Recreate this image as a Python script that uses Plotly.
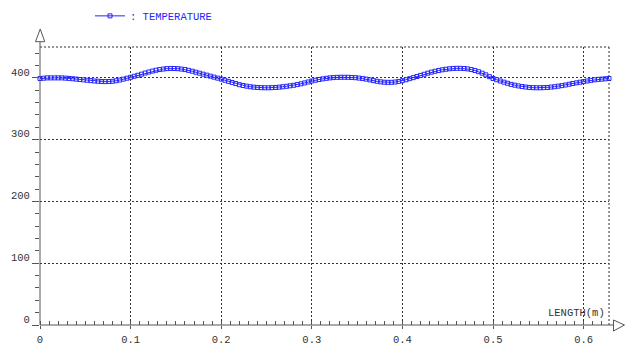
import plotly.graph_objects as go

# ---- data ----
LENGTH_M = [
    0.000, 0.004, 0.008, 0.012, 0.016, 0.020, 0.024, 0.028, 0.032, 0.036,
    0.040, 0.044, 0.048, 0.052, 0.056, 0.060, 0.064, 0.068, 0.072, 0.076,
    0.080, 0.084, 0.088, 0.092, 0.096, 0.100, 0.104, 0.108, 0.112, 0.116,
    0.120, 0.124, 0.128, 0.132, 0.136, 0.140, 0.144, 0.148, 0.152, 0.156,
    0.160, 0.164, 0.168, 0.172, 0.176, 0.180, 0.184, 0.188, 0.192, 0.196,
    0.200, 0.204, 0.208, 0.212, 0.216, 0.220, 0.224, 0.228, 0.232, 0.236,
    0.240, 0.244, 0.248, 0.252, 0.256, 0.260, 0.264, 0.268, 0.272, 0.276,
    0.280, 0.284, 0.288, 0.292, 0.296, 0.300, 0.304, 0.308, 0.312, 0.316,
    0.320, 0.324, 0.328, 0.332, 0.336, 0.340, 0.344, 0.348, 0.352, 0.356,
    0.360, 0.364, 0.368, 0.372, 0.376, 0.380, 0.384, 0.388, 0.392, 0.396,
    0.400, 0.404, 0.408, 0.412, 0.416, 0.420, 0.424, 0.428, 0.432, 0.436,
    0.440, 0.444, 0.448, 0.452, 0.456, 0.460, 0.464, 0.468, 0.472, 0.476,
    0.480, 0.484, 0.488, 0.492, 0.496, 0.500, 0.504, 0.508, 0.512, 0.516,
    0.520, 0.524, 0.528, 0.532, 0.536, 0.540, 0.544, 0.548, 0.552, 0.556,
    0.560, 0.564, 0.568, 0.572, 0.576, 0.580, 0.584, 0.588, 0.592, 0.596,
    0.600, 0.604, 0.608, 0.612, 0.616, 0.620, 0.624, 0.628,
]

TEMPERATURE = [
    399.0, 399.5, 400.0, 400.0, 400.0, 400.0, 400.0, 399.6, 399.2, 398.6,
    398.0, 397.4, 396.8, 396.2, 395.6, 395.0, 394.6, 394.2, 394.0, 394.1,
    394.5, 395.4, 396.5, 398.0, 399.5, 401.0, 402.6, 404.2, 406.0, 407.8,
    409.5, 411.0, 412.4, 413.5, 414.3, 415.0, 415.3, 415.2, 414.9, 414.3,
    413.5, 412.2, 410.8, 409.2, 407.6, 406.0, 404.4, 402.8, 401.2, 399.6,
    398.0, 396.2, 394.4, 392.6, 390.8, 389.0, 387.7, 386.6, 385.7, 385.0,
    384.5, 384.2, 384.0, 384.0, 384.2, 384.5, 385.0, 385.6, 386.4, 387.2,
    388.0, 389.2, 390.4, 391.8, 393.4, 395.0, 396.2, 397.4, 398.4, 399.3,
    400.0, 400.5, 400.9, 401.0, 401.0, 401.0, 400.7, 400.3, 399.7, 398.9,
    398.0, 396.8, 395.6, 394.5, 393.6, 393.0, 392.8, 392.8, 393.3, 394.3,
    395.5, 397.0, 398.7, 400.4, 402.2, 404.0, 405.8, 407.6, 409.3, 410.7,
    412.0, 413.1, 414.0, 414.8, 415.3, 415.5, 415.5, 415.2, 414.6, 413.5,
    412.0, 410.0, 407.6, 405.0, 402.0, 399.0, 397.0, 395.0, 393.1, 391.3,
    389.5, 388.2, 387.0, 386.0, 385.2, 384.5, 384.2, 384.0, 384.0, 384.2,
    384.5, 385.1, 385.7, 386.6, 387.5, 388.5, 389.7, 390.9, 392.0, 393.0,
    394.0, 395.0, 396.0, 396.9, 397.6, 398.0, 398.5, 399.0,
]

X_TICKS = [0, 0.1, 0.2, 0.3, 0.4, 0.5, 0.6]
X_TICK_LABELS = ["0", "0.1", "0.2", "0.3", "0.4", "0.5", "0.6"]
Y_TICKS = [0, 100, 200, 300, 400]
Y_TICK_LABELS = ["0", "100", "200", "300", "400"]
X_MAX = 0.628
Y_MAX = 450

SERIES_NAME = ": TEMPERATURE"
X_TITLE = "LENGTH(m)"

FONT = "Liberation Mono, Courier New, monospace"
BLUE = "#2626ff"
AXIS = "#555555"
GRID = "#333333"

fig = go.Figure()
fig.add_trace(go.Scatter(
    x=LENGTH_M, y=TEMPERATURE, mode="lines+markers", name=SERIES_NAME,
    line=dict(color=BLUE, width=1),
    marker=dict(symbol="square-open", size=4, color=BLUE, line=dict(width=1, color=BLUE)),
    cliponaxis=False,
))

fig.update_layout(
    width=630, height=345,
    margin=dict(l=40, r=21, t=47, b=20, autoexpand=False),
    paper_bgcolor="white", plot_bgcolor="white",
    font=dict(family=FONT, size=10.5, color="#333333"),
    showlegend=True,
    legend=dict(x=(90 - 40) / 569, y=1.112, xanchor="left", yanchor="middle",
                bgcolor="rgba(0,0,0,0)", font=dict(family=FONT, size=10.5, color=BLUE),
                itemclick=False),
    xaxis=dict(
        range=[0, X_MAX], tickvals=X_TICKS, ticktext=X_TICK_LABELS,
        showgrid=True, gridcolor=GRID, gridwidth=1, griddash="2px,2px",
        zeroline=False, showline=False, automargin=False,
        ticks="outside", ticklen=3, tickcolor=AXIS, tickwidth=1,
        ticklabelstandoff=1,
        minor=dict(dtick=0.01, ticks="inside", ticklen=4, tickcolor=AXIS, showgrid=False),
        fixedrange=True,
    ),
    yaxis=dict(
        range=[0, Y_MAX], tickvals=Y_TICKS, ticktext=Y_TICK_LABELS,
        showgrid=True, gridcolor=GRID, gridwidth=1, griddash="2px,2px",
        zeroline=False, showline=False, automargin=False,
        ticks="outside", ticklen=7, tickcolor=AXIS, tickwidth=1,
        ticklabelshift=-6,
        minor=dict(dtick=20, ticks="outside", ticklen=4, tickcolor=AXIS, showgrid=False),
        fixedrange=True,
    ),
)

# frame lines (top and right dashed), axis lines and arrow heads
fig.add_shape(type="line", xref="paper", yref="paper", x0=0, x1=1, y0=1, y1=1,
              line=dict(color=GRID, width=1, dash="2px,2px"))
fig.add_shape(type="line", xref="paper", yref="paper", x0=1, x1=1, y0=0, y1=1,
              line=dict(color=GRID, width=1, dash="2px,2px"))
fig.add_shape(type="line", xref="paper", yref="paper", x0=0, x1=1.0079, y0=0, y1=0,
              line=dict(color=AXIS, width=1))
fig.add_shape(type="line", xref="paper", yref="paper", x0=0, x1=0, y0=0, y1=1.0191,
              line=dict(color=AXIS, width=1))
fig.add_shape(type="path", xref="paper", yref="paper",
              path="M -0.0079 1.0191 L 0.0084 1.0191 L 0.0004 1.0647 Z",
              fillcolor="white", line=dict(color=AXIS, width=1))
fig.add_shape(type="path", xref="paper", yref="paper",
              path="M 1.0079 0.018 L 1.0079 -0.0216 L 1.0272 0 Z",
              fillcolor="white", line=dict(color=AXIS, width=1))

fig.add_annotation(text=X_TITLE, xref="paper", yref="paper",
                   x=(607 - 40) / 569, y=(325 - 312.5) / 278,
                   xanchor="right", yanchor="middle", showarrow=False,
                   font=dict(family=FONT, size=10.5, color="#333333"))

fig.write_html("out.html")
